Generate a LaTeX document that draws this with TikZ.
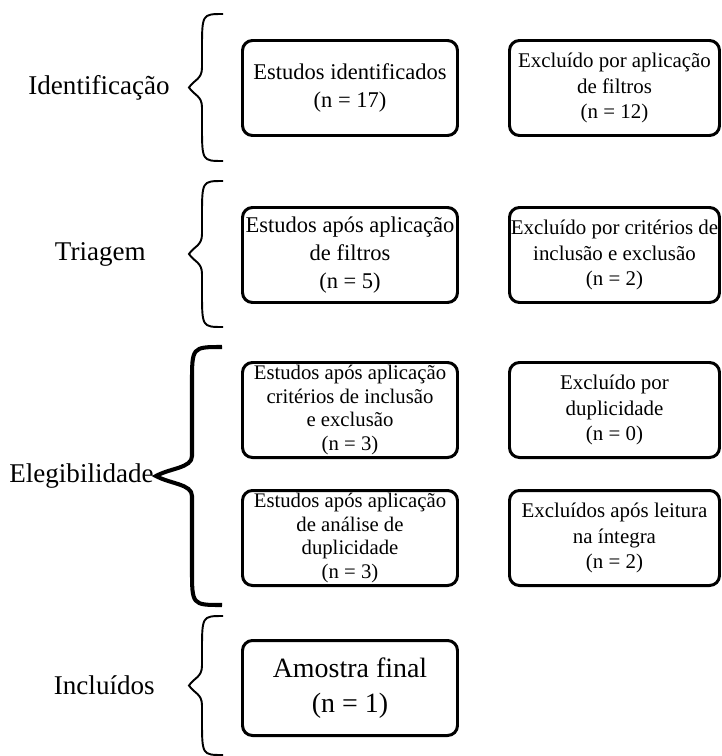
\documentclass[tikz,border=0pt]{standalone}
\usepackage{fontspec}
\setmainfont{Liberation Serif}
\usetikzlibrary{positioning}

\tikzset{
    pics/curly/.style n args={3}{code={
        \draw (0,#1) .. controls (-#2,#1) .. (-#2,#1-0.72) -- (-#2,0.4)
            .. controls (-#2,0.16) and ({-#3+0.4*(#3-#2)},0.16) .. (-#3,0)
            .. controls ({-#3+0.4*(#3-#2)},-0.16) and (-#2,-0.16) .. (-#2,-0.4)
            -- (-#2,-#1+0.72) .. controls (-#2,-#1) .. (0,-#1);
        \coordinate (-tip) at (-#3,0);
    }}
}

\begin{document}
\begin{tikzpicture}[
    node distance=1.2cm and 1.04cm,
    box/.style={rectangle, draw, rounded corners=0.2cm, line width=1.7pt, outer sep=0pt, minimum width=4.3cm, minimum height=1.9cm, inner xsep=0.5pt, inner ysep=1pt, align=center, font=\fontsize{12.8}{16}\selectfont},
    exbox/.style={box, minimum width=4.2cm, font=\fontsize{11.9}{14.3}\selectfont},
    smallbox/.style={box, font=\fontsize{11.8}{13.6}\selectfont},
    lbl/.style={inner sep=0pt, font=\fontsize{15.4}{18}\selectfont},
    brc/.style={line width=1.1pt}
]
    \useasboundingbox (0,0) rectangle (14.42,-15.12);

    \node[box] (ident) at (7,-1.76) {Estudos identificados\\(n = 17)};
    \node[exbox] (exfilt) [right=of ident] {Excluído por aplicação\\de filtros\\(n = 12)};
    \node[box] (filt) [below=1.44cm of ident] {Estudos após aplicação\\de filtros\\(n = 5)};
    \node[exbox] (excrit) [right=of filt] {Excluído por critérios de\\inclusão e exclusão\\(n = 2)};
    \node[smallbox] (crit) [below=of filt] {Estudos após aplicação\\critérios de inclusão\\e exclusão\\(n = 3)};
    \node[exbox] (exdup) [right=of crit] {Excluído por\\duplicidade\\(n = 0)};
    \node[smallbox] (dup) [below=0.66cm of crit] {Estudos após aplicação\\de análise de\\duplicidade\\(n = 3)};
    \node[exbox] (exread) [right=of dup] {Excluídos após leitura\\na íntegra\\(n = 2)};
    \node[box, font=\fontsize{15.9}{19.9}\selectfont] (final) [below=1.1cm of dup] {Amostra final\\(n = 1)};

    \pic[brc] (bid) at (4.46,-1.75) {curly={1.47}{0.42}{0.68}};
    \pic[brc] (btri) at (4.46,-5.08) {curly={1.46}{0.42}{0.68}};
    \pic[line width=2.3pt] (bel) at (4.44,-9.52) {curly={2.58}{0.6}{1.32}};
    \pic[brc] (binc) at (4.46,-13.71) {curly={1.39}{0.42}{0.68}};

    \node[lbl] (lid) [left=0.38cm of bid-tip] {Identificação};
    \node[lbl] (ltri) [left=0.86cm of btri-tip] {Triagem};
    \node[lbl] (lel) [left=0.04cm of bel-tip] {Elegibilidade};
    \node[lbl] (linc) [left=0.68cm of binc-tip] {Incluídos};
\end{tikzpicture}
\end{document}
